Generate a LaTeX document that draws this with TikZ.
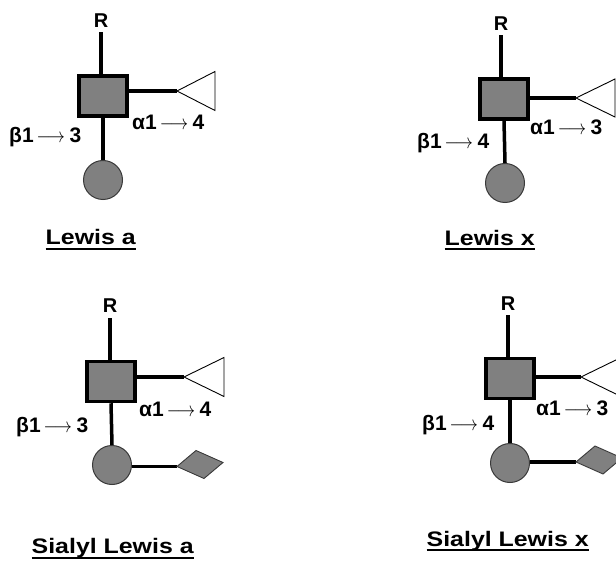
\documentclass[tikz,border=0pt]{standalone}
\usepackage{fontspec}
\usepackage{graphicx}
\setmainfont{Liberation Sans}
\definecolor{glyc}{HTML}{808080}
\definecolor{rimgray}{HTML}{3A3A3A}
\newcommand\linkarrow[2]{#1\kern3pt\scalebox{0.85}[1]{$\longrightarrow$}\kern4.5pt#2}
\newcommand\stitle[1]{\scalebox{1.186}[1]{#1}}
\tikzset{
  conn/.style={line width=3.5pt, draw=black},
  sqnode/.style={rectangle, draw=black, line width=3.5pt, fill=glyc,
    minimum width=48pt, minimum height=40pt, inner sep=0pt},
  circnode/.style={circle, draw=rimgray, line width=1pt, fill=glyc,
    minimum size=39pt, inner sep=0pt},
  trishape/.style={draw=black, line width=0.9pt, fill=white, line join=miter},
  diashape/.style={draw=rimgray, line width=0.9pt, fill=glyc, line join=miter},
  rlabel/.style={font=\fontsize{20}{22}\selectfont\bfseries, inner sep=0pt, anchor=base},
  linklabel/.style={font=\fontsize{21}{24}\selectfont\bfseries, inner sep=0pt, anchor=base west},
  titlelabel/.style={font=\fontsize{21}{24}\selectfont\bfseries, inner sep=0pt, anchor=base west},
  uline/.style={line width=2pt}
}
\begin{document}
\begin{tikzpicture}[x=1pt,y=-1pt]
\useasboundingbox (0,0) rectangle (616,561);
\clip (0,0) rectangle (616,561);

% ---------- Lewis a ----------
\node[rlabel] (Ra) at (101,28) {R};
\node[sqnode] (Sa) at (103,96) {};
\node[circnode] (Ca) at (103,180) {};
\coordinate (Ta) at (177,91);
\draw[conn] ([yshift=-4pt]Ra.south) -- (Ra.south |- Sa.north);
\draw[conn] (Sa.south) -- (Ca.north);
\draw[conn] (Sa.east |- Ta) -- (Ta);
\draw[trishape] (Ta) -- ++(38,-19.5) -- ++(0,39) -- cycle;
\node[linklabel] (Lab1) at (9,143) {\linkarrow{β1}{3}};
\node[linklabel] (Lab2) at (132,130) {\linkarrow{α1}{4}};
\node[titlelabel] (Na) at (45.5,245) {\stitle{Lewis a}};
\draw[uline] ([yshift=-4pt]Na.base west) -- ([yshift=-4pt]Na.base east);

% ---------- Lewis x ----------
\node[rlabel] (Rb) at (501,31) {R};
\node[sqnode] (Sb) at (504,99) {};
\node[circnode] (Cb) at (505,183) {};
\coordinate (Tb) at (576,98);
\draw[conn] ([yshift=-4pt]Rb.south) -- (Rb.south |- Sb.north);
\draw[conn] (Sb.south) -- (Cb.north);
\draw[conn] (Sb.east |- Tb) -- (Tb);
\draw[trishape] (Tb) -- ++(39,-19) -- ++(0,38) -- cycle;
\node[linklabel] (Lbb1) at (417,149) {\linkarrow{β1}{4}};
\node[linklabel] (Lbb2) at (530,135) {\linkarrow{α1}{3}};
\node[titlelabel] (Nb) at (444.5,246) {\stitle{Lewis x}};
\draw[uline] ([yshift=-3pt]Nb.base west) -- ([yshift=-3pt]Nb.base east);

% ---------- Sialyl Lewis a ----------
\node[rlabel] (Rc) at (110,313) {R};
\node[sqnode] (Sc) at (111,381.5) {};
\node[circnode] (Cc) at (112,465) {};
\coordinate (Tc) at (184,377);
\coordinate (Dc) at (177,466.5);
\draw[conn] ([yshift=-5pt]Rc.south) -- (Rc.south |- Sc.north);
\draw[conn] (Sc.south) -- (Cc.north);
\draw[conn] (Sc.east |- Tc) -- (Tc);
\draw[conn] (Cc.east |- Dc) -- (Dc);
\draw[trishape] (Tc) -- ++(40,-19.5) -- ++(0,39) -- cycle;
\draw[diashape] (Dc) -- ++(19,-16) -- ++(27,12) -- ++(-19,16) -- cycle;
\node[linklabel] (Lc1) at (16,432) {\linkarrow{β1}{3}};
\node[linklabel] (Lc2) at (139,417) {\linkarrow{α1}{4}};
\node[titlelabel] (Nc) at (31.5,553.5) {\stitle{Sialyl Lewis a}};
\draw[uline] ([yshift=-4pt]Nc.base west) -- ([yshift=-4pt]Nc.base east);

% ---------- Sialyl Lewis x ----------
\node[rlabel] (Rd) at (508,311) {R};
\node[sqnode] (Sd) at (510,378.5) {};
\node[circnode] (Cd) at (510,463) {};
\coordinate (Td) at (581,377);
\coordinate (Dd) at (576,462);
\draw[conn] ([yshift=-4pt]Rd.south) -- (Rd.south |- Sd.north);
\draw[conn] (Sd.south) -- (Cd.north);
\draw[conn] (Sd.east |- Td) -- (Td);
\draw[conn] (Cd.east |- Dd) -- (Dd);
\draw[trishape] (Td) -- ++(40,-19.5) -- ++(0,39) -- cycle;
\draw[diashape] (Dd) -- ++(19,-16) -- ++(27,12) -- ++(-19,16) -- cycle;
\node[linklabel] (Ld1) at (422,430) {\linkarrow{β1}{4}};
\node[linklabel] (Ld2) at (536,415) {\linkarrow{α1}{3}};
\node[titlelabel] (Nd) at (426.5,546) {\stitle{Sialyl Lewis x}};
\draw[uline] ([yshift=-3.5pt]Nd.base west) -- ([yshift=-3.5pt]Nd.base east);
\end{tikzpicture}
\end{document}
